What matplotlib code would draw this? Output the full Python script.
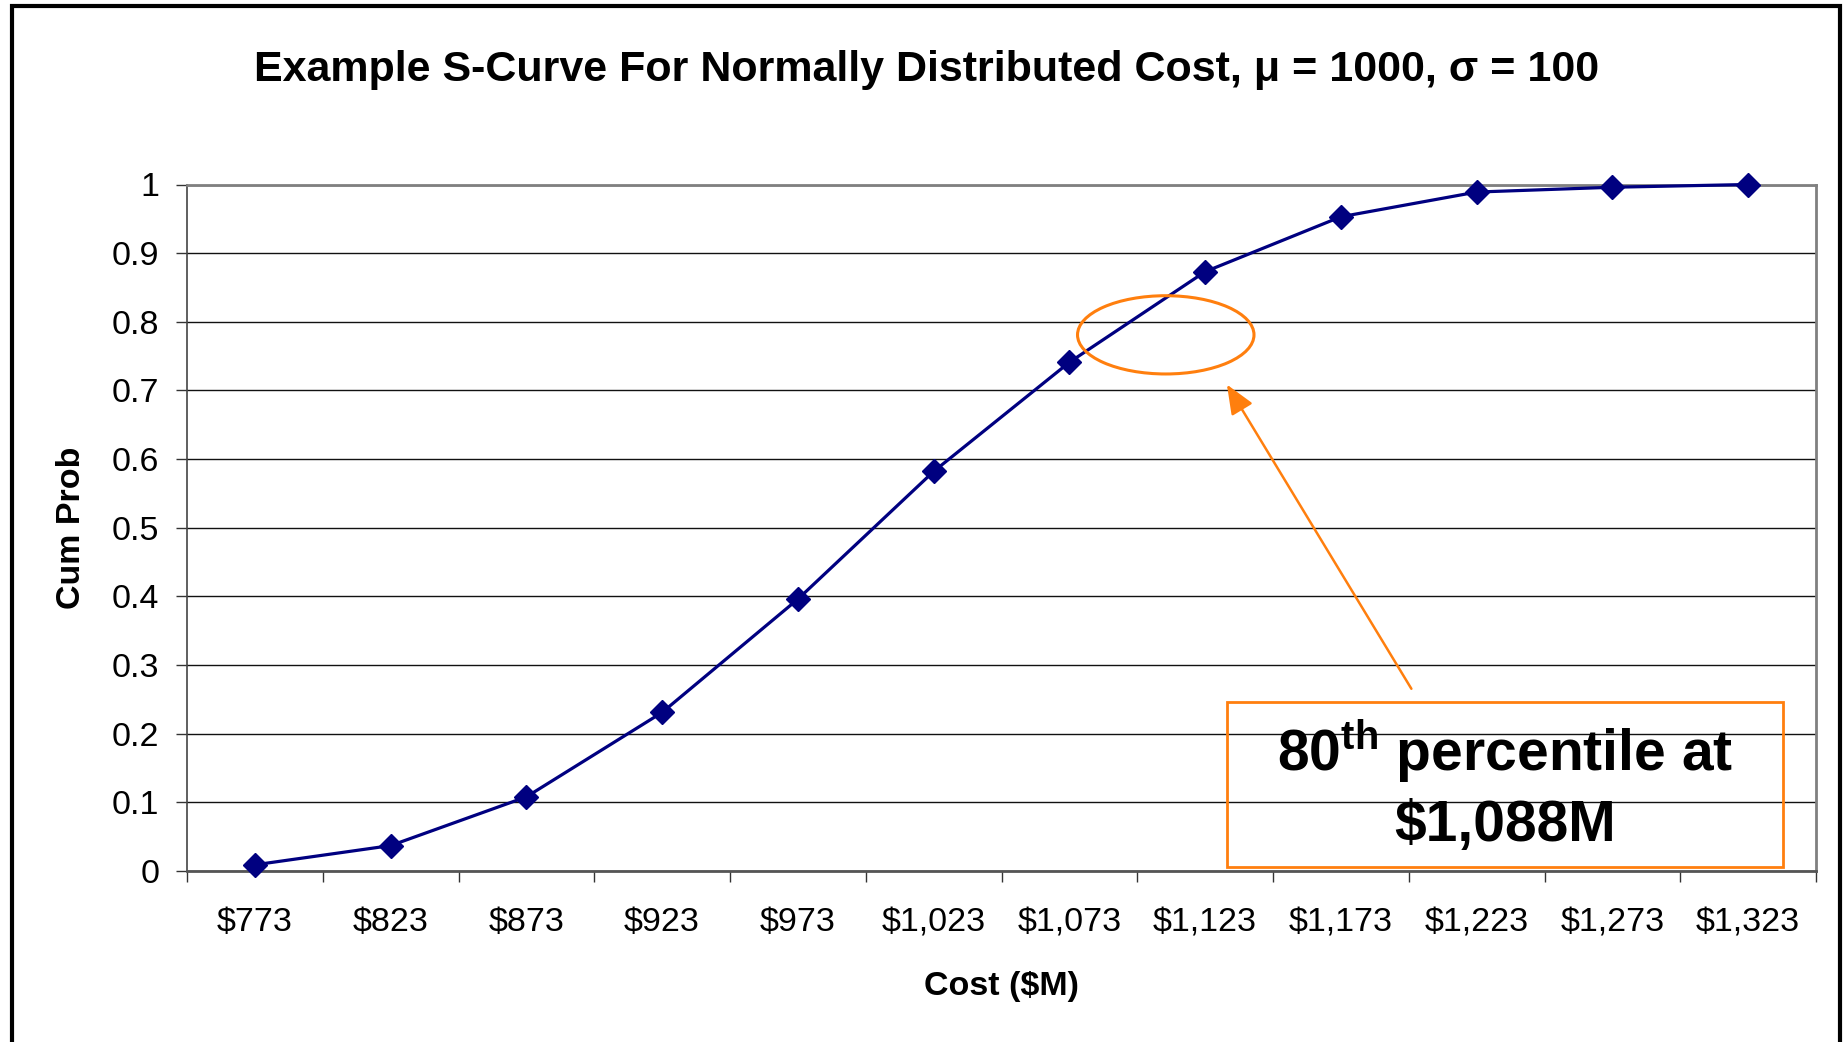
import matplotlib
matplotlib.use("Agg")
import matplotlib.pyplot as plt
from matplotlib.patches import Ellipse, Rectangle

# data
cost_labels = ["\\$773", "\\$823", "\\$873", "\\$923", "\\$973", "\\$1,023",
               "\\$1,073", "\\$1,123", "\\$1,173", "\\$1,223", "\\$1,273", "\\$1,323"]
cum_prob = [0.009, 0.037, 0.108, 0.231, 0.396, 0.582, 0.741, 0.873, 0.953, 0.989, 0.996, 1.0]
y_ticks = [0, 0.1, 0.2, 0.3, 0.4, 0.5, 0.6, 0.7, 0.8, 0.9, 1]
y_tick_labels = ["0", "0.1", "0.2", "0.3", "0.4", "0.5", "0.6", "0.7", "0.8", "0.9", "1"]

plt.rcParams["font.family"] = ["Liberation Sans", "DejaVu Sans"]
plt.rcParams["mathtext.fontset"] = "custom"
plt.rcParams["mathtext.rm"] = "Liberation Sans:bold"
plt.rcParams["mathtext.bf"] = "Liberation Sans:bold"

W, H = 1843, 1042
fig = plt.figure(figsize=(W / 100, H / 100), dpi=100)
fig.patch.set_facecolor("white")

# outer frame (bottom edge falls outside the picture)
fig.patches.append(Rectangle((12 / W, -0.05), (1840 - 12) / W, 1.05 - 6 / H,
                             transform=fig.transFigure, fill=False,
                             edgecolor="black", lw=3))

ax = fig.add_axes([187 / W, 1 - 871 / H, (1816 - 187) / W, (871 - 184.5) / H])

x = list(range(len(cum_prob)))
ax.plot(x, cum_prob, color="#000080", lw=2.3, marker="D", markersize=12.5,
        markerfacecolor="#000080", markeredgecolor="#000080", zorder=5,
        clip_on=False)

ax.set_xlim(-0.5, len(cum_prob) - 0.5)
ax.set_ylim(0, 1)

# y axis
ax.set_yticks(y_ticks)
ax.set_yticklabels(y_tick_labels)
ax.tick_params(axis="y", direction="out", length=8, width=1, pad=12,
               labelsize=24.5, color="#333333")
ax.yaxis.grid(True, color="#111111", lw=1)
ax.set_axisbelow(True)

# x axis: labels at category centres, tick marks at boundaries
ax.set_xticks(x)
ax.set_xticklabels(cost_labels)
ax.set_xticks([i - 0.5 for i in range(len(cum_prob) + 1)], minor=True)
ax.tick_params(axis="x", which="major", length=0, pad=26, labelsize=24.5)
ax.tick_params(axis="x", which="minor", direction="out", length=8, width=1,
               color="#333333")

for s in ["top", "right"]:
    ax.spines[s].set_color("#808080")
    ax.spines[s].set_linewidth(2)
ax.spines["left"].set_color("#444444")
ax.spines["left"].set_linewidth(1.2)
ax.spines["bottom"].set_color("#555555")
ax.spines["bottom"].set_linewidth(2)

ax.set_xlabel("Cost (\\$M)", fontsize=24.5, fontweight="bold", labelpad=24)
ax.set_ylabel("Cum Prob", fontsize=24.5, fontweight="bold", labelpad=18)

fig.text(927 / W, 1 - 70 / H,
         "Example S-Curve For Normally Distributed Cost, \u03bc = 1000, \u03c3 = 100",
         ha="center", va="center", fontsize=31, fontweight="bold")

# annotation: ellipse, arrow and box
orange = "#FF7F0E"
ax.add_patch(Ellipse((6.71, 0.781), 1.30, 0.114, fill=False,
                     edgecolor=orange, lw=2.2, zorder=6))
ax.annotate("", xy=(7.15, 0.712), xytext=(8.53, 0.262),
            arrowprops=dict(arrowstyle="-|>,head_length=0.6,head_width=0.25",
                            color=orange, lw=1.8, mutation_scale=30), zorder=6)
ax.add_patch(Rectangle((7.16, 0.006), 4.10, 0.240, fill=False,
                       edgecolor=orange, lw=2, zorder=6))
ax.text(9.21, 0.173, "80$^{\\mathrm{th}}$ percentile at", ha="center",
        va="center", fontsize=41, fontweight="bold", zorder=7)
ax.text(9.21, 0.065, "\\$1,088M", ha="center", va="center", fontsize=41,
        fontweight="bold", zorder=7)

fig.savefig("out.png", dpi=100)
